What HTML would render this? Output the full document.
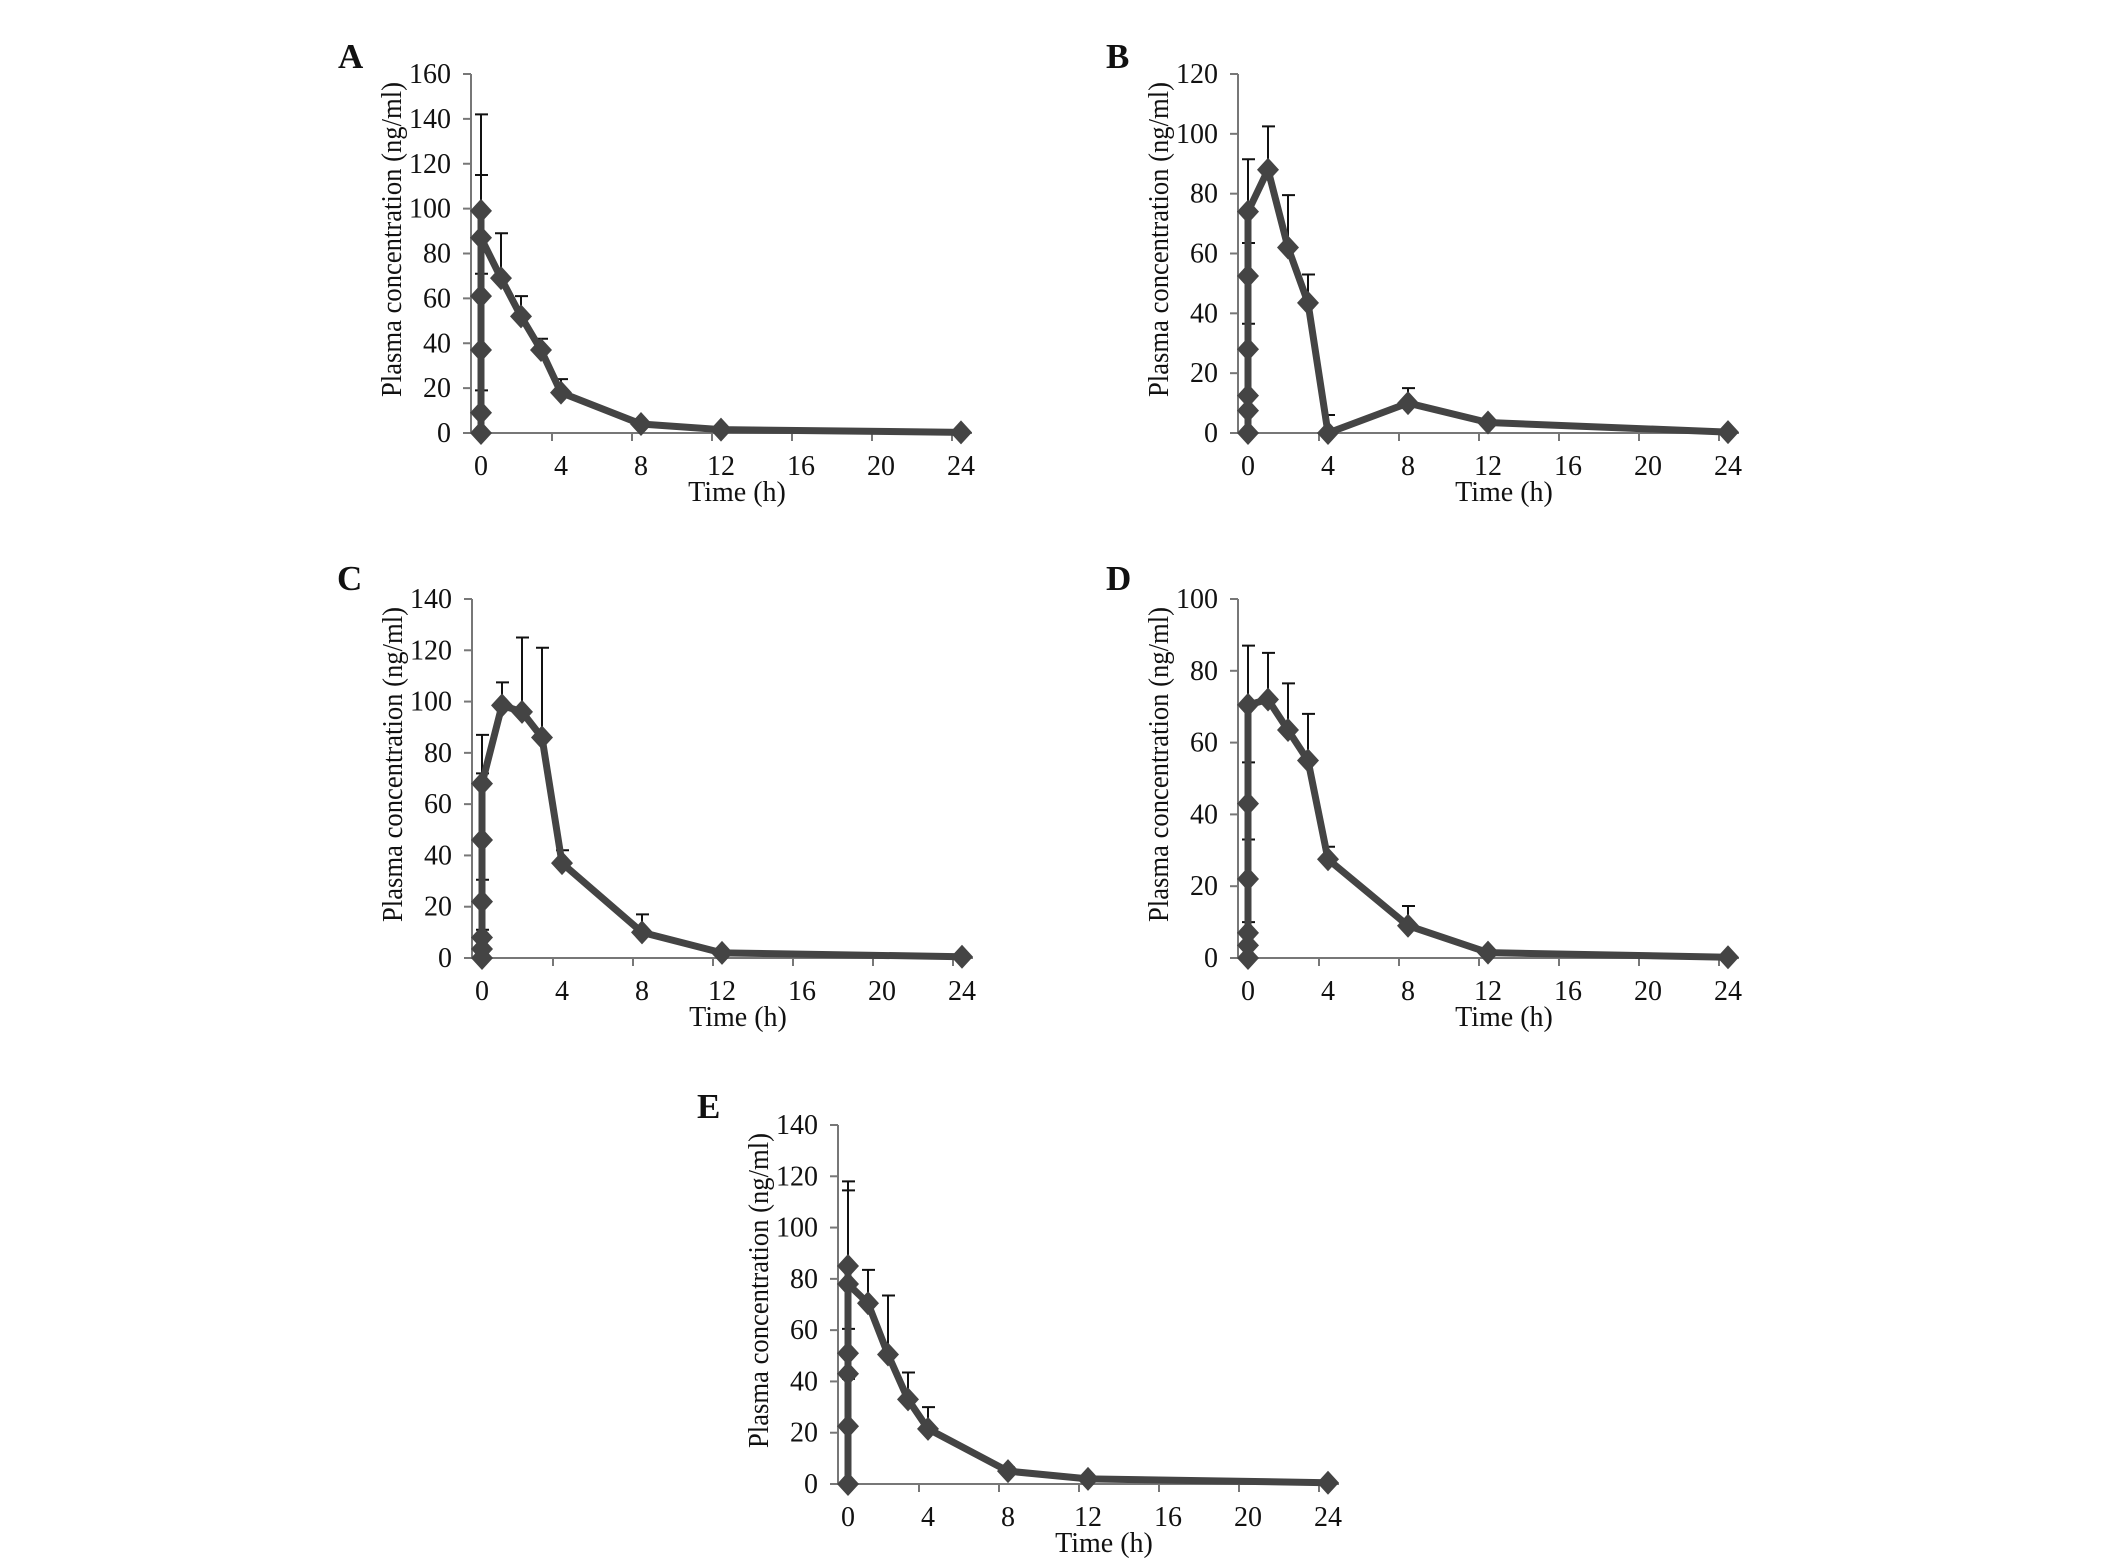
<!DOCTYPE html>
<html><head><meta charset="utf-8"><style>
html,body{margin:0;padding:0;background:#fff;}
svg{display:block;}
text{font-family:"Liberation Serif",serif;fill:#111;}
</style></head><body>
<svg id="fig" width="2126" height="1559" viewBox="0 0 2126 1559" xmlns="http://www.w3.org/2000/svg"></svg>
<script>
// ---- data (hours, ng/ml) ----
const timesA = [0,0,0,0,0,0,1,2,3,4,8,12,24];
const valuesA = [0,9,37,61,99,87,69,52,37,18,4,1.5,0.3];
const errorsA = [null,19,null,71,142,115,89,61,42,24,5,null,null];

const timesB = [0,0,0,0,0,0,1,2,3,4,8,12,24];
const valuesB = [0,7.5,12.5,28,52.5,74,88,62,43.5,0,10,3.5,0.3];
const errorsB = [null,null,null,36.5,63.5,91.5,102.5,79.5,53,6,15,null,null];

const timesC = [0,0,0,0,0,0,1,2,3,4,8,12,24];
const valuesC = [0,3.5,8,22,46,68,98.5,96,86,37,10,2,0.5];
const errorsC = [null,null,11,30.5,72,87,107.5,125,121,42,17,null,null];

const timesD = [0,0,0,0,0,0,1,2,3,4,8,12,24];
const valuesD = [0,3.5,7,22,43,70.5,72,63.5,55,27.5,9,1.5,0.2];
const errorsD = [null,null,10,33,54.5,87,85,76.5,68,31,14.5,null,null];

const timesE = [0,0,0,0,0,0,1,2,3,4,8,12,24];
const valuesE = [0,22.5,43,51,85,78,70.5,50.5,33,21.5,5,2,0.5];
const errorsE = [null,41,null,60.5,118,114.5,83.5,73.5,43.5,30,6.5,null,null];

const xTickLabels = [0,4,8,12,16,20,24];
const yMaxA = 160, yMaxB = 120, yMaxC = 140, yMaxD = 100, yMaxE = 140;

const NS = "http://www.w3.org/2000/svg";
const svg = document.getElementById('fig');
function mk(tag, attrs, parent){
  const e = document.createElementNS(NS, tag);
  for (const k in attrs) e.setAttribute(k, attrs[k]);
  (parent||svg).appendChild(e);
  return e;
}

function panel(id, letter, letterX, letterY, x0, yTop, yBot, yMax, times, values, errors){
  const g = mk('g', {});
  
  
  const pxh = 20;
  const xs = t => x0 + t * pxh;
  const ys = v => yBot - (v / yMax) * (yBot - yTop);
  const axisX = x0 - 10;
  const axisEnd = x0 + 24 * pxh + 11;

  const L = mk('text', {x:letterX, y:letterY, 'font-size':35, 'font-weight':'bold'}, g);
  L.textContent = letter;
  
  

  const ya = mk('line', {x1:axisX, y1:yTop, x2:axisX, y2:yBot, stroke:'#777', 'stroke-width':2}, g);
  
  
  const xa = mk('line', {x1:axisX, y1:yBot, x2:axisEnd, y2:yBot, stroke:'#777', 'stroke-width':2}, g);
  
  

  for (let v = 0; v <= yMax; v += 20){
    const y = ys(v);
    mk('line', {x1:axisX-8, y1:y, x2:axisX, y2:y, stroke:'#777', 'stroke-width':2}, g);
    const t = mk('text', {x:axisX-20, y:y+9, 'font-size':28, 'text-anchor':'end'}, g);
    t.textContent = v;
    
    
  }
  for (let i = 0; i < xTickLabels.length; i++){
    const tv = xTickLabels[i];
    const tx = xs(tv) - 9;
    if (i > 0) mk('line', {x1:tx, y1:yBot, x2:tx, y2:yBot+8, stroke:'#777', 'stroke-width':2}, g);
    const t = mk('text', {x:xs(tv), y:yBot+42, 'font-size':28, 'text-anchor':'middle'}, g);
    t.textContent = tv;
    
    
  }
  const xt = mk('text', {x:x0+256, y:yBot+68, 'font-size':28, 'text-anchor':'middle'}, g);
  xt.textContent = 'Time (h)';
  
  
  const cy = (yTop + yBot) / 2 - 14;
  const yt = mk('text', {x:0, y:0, 'font-size':28, 'text-anchor':'middle',
    transform:'translate(' + (axisX-70) + ',' + cy + ') rotate(-90)', textLength:315, lengthAdjust:'spacingAndGlyphs'}, g);
  yt.textContent = 'Plasma concentration (ng/ml)';
  
  

  for (let i = 0; i < times.length; i++){
    if (errors[i] == null) continue;
    const x = xs(times[i]);
    const eb = mk('path', {d:'M' + x + ' ' + ys(values[i]) + 'V' + ys(errors[i]) + 'M' + (x-6) + ' ' + ys(errors[i]) + 'H' + (x+7),
      stroke:'#111', 'stroke-width':2, fill:'none'}, g);
    
    
  }
  let d = '';
  for (let i = 0; i < times.length; i++) d += (i ? 'L' : 'M') + xs(times[i]) + ' ' + ys(values[i]);
  const ln = mk('path', {d:d, stroke:'#444', 'stroke-width':7, fill:'none', 'stroke-linejoin':'round'}, g);
  
  
  for (let i = 0; i < times.length; i++){
    const x = xs(times[i]), y = ys(values[i]);
    const m = mk('path', {d:'M' + x + ' ' + (y-12) + 'L' + (x+11) + ' ' + y + 'L' + x + ' ' + (y+12) + 'L' + (x-11) + ' ' + y + 'Z', fill:'#444'}, g);
    
    
  }
}

panel('a', 'A', 338, 68, 481, 74, 433, yMaxA, timesA, valuesA, errorsA);
panel('b', 'B', 1106, 68, 1248, 74, 433, yMaxB, timesB, valuesB, errorsB);
panel('c', 'C', 337, 590, 482, 599, 958, yMaxC, timesC, valuesC, errorsC);
panel('d', 'D', 1106, 590, 1248, 599, 958, yMaxD, timesD, valuesD, errorsD);
panel('e', 'E', 697, 1118, 848, 1125, 1484, yMaxE, timesE, valuesE, errorsE);
</script>
</body></html>
